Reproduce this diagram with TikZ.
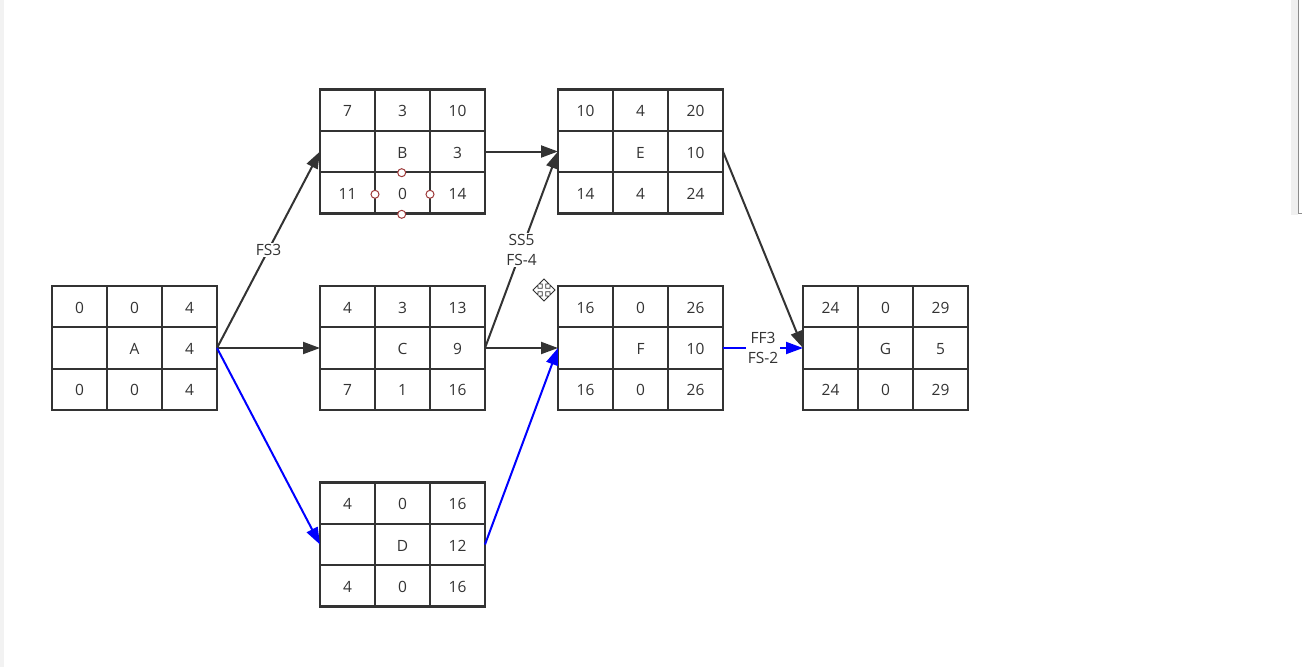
\documentclass[tikz,border=0pt]{standalone}
\usepackage{fontspec}
\setmainfont{Open Sans}
\usetikzlibrary{arrows.meta,calc}
\definecolor{ink}{HTML}{333333}
\definecolor{handle}{HTML}{9E3A3A}
\definecolor{critblue}{HTML}{0000FF}
\tikzset{
  box/.style={draw=ink, line width=2.2pt, minimum width=165pt, minimum height=124pt, inner sep=0pt, outer sep=0pt},
  grid/.style={draw=ink, line width=2.2pt},
  cell/.style={text=ink, font=\fontsize{15.5}{20}\selectfont, inner sep=0pt},
  link/.style={draw=ink, line width=2pt, -{Triangle[length=17pt,width=12pt]}},
  crit/.style={link, draw=critblue},
  lab/.style={fill=white, text=ink, font=\fontsize{15.5}{20}\selectfont, inner sep=1.5pt, align=center},
  selhandle/.style={draw=handle, fill=white, line width=1pt},
}
\newcommand{\actbox}[6]{%
  \node[box] (#1) at (#2) {};
  \draw[grid] ($(#1.north west)!1/3!(#1.north east)$) -- ($(#1.south west)!1/3!(#1.south east)$);
  \draw[grid] ($(#1.north west)!2/3!(#1.north east)$) -- ($(#1.south west)!2/3!(#1.south east)$);
  \draw[grid] ($(#1.north west)!1/3!(#1.south west)$) -- ($(#1.north east)!1/3!(#1.south east)$);
  \draw[grid] ($(#1.north west)!2/3!(#1.south west)$) -- ($(#1.north east)!2/3!(#1.south east)$);
  \foreach \t [count=\i] in {#3} \node[cell] (#1-t\i) at ($(#1.north west)+(\i*55-27.5,21.7)$) {\t};
  \node[cell] (#1-name) at ($(#1.center)+(0,1)$) {#4};
  \node[cell] (#1-dur) at ($(#1.east)+(-27.5,1)$) {#5};
  \foreach \t [count=\i] in {#6} \node[cell] (#1-b\i) at ($(#1.north west)+(\i*55-27.5,104.3)$) {\t};
}
\begin{document}
\begin{tikzpicture}[x=1pt,y=-1pt]
  \useasboundingbox (0,0) rectangle (1302,667);
  \fill[white] (0,0) rectangle (1302,667);
  \fill[black!5] (0,0) rectangle (4,667);
  \fill[black!6] (1291,0) rectangle (1298,215);
  \draw[black!45, line width=1pt] (1298.5,0) -- (1298.5,213.5) -- (1303,213.5);

  \actbox{A}{134.5,348}{0,0,4}{A}{4}{0,0,4}
  \actbox{B}{402.5,151.5}{7,3,10}{B}{3}{11,0,14}
  \actbox{C}{402.5,348}{4,3,13}{C}{9}{7,1,16}
  \actbox{D}{402.5,544.5}{4,0,16}{D}{12}{4,0,16}
  \actbox{E}{640.5,151.5}{10,4,20}{E}{10}{14,4,24}
  \actbox{F}{640.5,348}{16,0,26}{F}{10}{16,0,26}
  \actbox{G}{885.5,348}{24,0,29}{G}{5}{24,0,29}

  \draw[link] (A.east) -- node[lab]{FS3} (B.west);
  \draw[link] (A.east) -- (C.west);
  \draw[crit] (A.east) -- (D.west);
  \draw[link] (B.east) -- (E.west);
  \draw[link] (C.east) -- node[lab]{SS5\\FS-4} (E.west);
  \draw[link] (C.east) -- (F.west);
  \draw[crit] (D.east) -- (F.west);
  \draw[link] (E.east) -- (G.west);
  \draw[crit] (F.east) -- node[lab]{FF3\\FS-2} (G.west);

  \foreach \p in {(401.7,172.7),(375,194.3),(430,194.3),(401.7,214.3)}
    \draw[selhandle] \p circle[radius=4];

  \begin{scope}[shift={(544,290)}]
    \draw[ink, fill=white, line width=0.8pt, line join=miter]
      (0,-11) -- (5,-6) -- (1.8,-6) -- (1.8,-1.8) -- (6,-1.8) -- (6,-5) -- (11,0) -- (6,5) -- (6,1.8) -- (1.8,1.8) -- (1.8,6) -- (5,6)
      -- (0,11) -- (-5,6) -- (-1.8,6) -- (-1.8,1.8) -- (-6,1.8) -- (-6,5) -- (-11,0) -- (-6,-5) -- (-6,-1.8) -- (-1.8,-1.8) -- (-1.8,-6) -- (-5,-6) -- cycle;
  \end{scope}
\end{tikzpicture}
\end{document}
